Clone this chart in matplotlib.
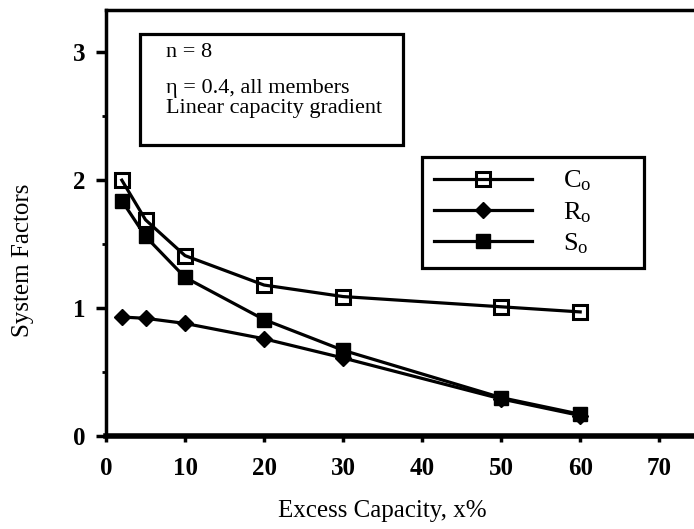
import matplotlib
matplotlib.use("Agg")
import matplotlib.pyplot as plt
from matplotlib.patches import Rectangle
from matplotlib.ticker import MultipleLocator

plt.rcParams["font.family"] = ["Liberation Serif", "DejaVu Serif"]
plt.rcParams["mathtext.fontset"] = "custom"
plt.rcParams["mathtext.rm"] = "Liberation Serif"
plt.rcParams["mathtext.it"] = "Liberation Serif:italic"

# Excess capacity (%) and system factors
excess = [2, 5, 10, 20, 30, 50, 60]
c_o = [2.00, 1.69, 1.41, 1.18, 1.09, 1.01, 0.97]
r_o = [0.93, 0.92, 0.88, 0.76, 0.61, 0.29, 0.16]
s_o = [1.84, 1.56, 1.24, 0.91, 0.67, 0.30, 0.17]

x_ticks = [0, 10, 20, 30, 40, 50, 60, 70]
y_ticks = [0, 1, 2, 3]

fig = plt.figure(figsize=(6.94, 5.29), dpi=100)
W, H = 694, 529
ax = fig.add_axes([106 / W, 1 - 436 / H, (W - 106) / W, (436 - 10) / H])
ax.set_xlim(0, 74.4)
ax.set_ylim(0, 3.33)

lw = 2.3
ax.plot(excess, c_o, color="black", lw=lw, marker="s", ms=9.5,
        mfc="none", mec="black", mew=2.2, label=r"C$_\mathrm{o}$", zorder=3)
ax.plot(excess, r_o, color="black", lw=lw, marker="D", ms=8,
        mfc="black", mec="black", label=r"R$_\mathrm{o}$", zorder=3)
ax.plot(excess, s_o, color="black", lw=lw, marker="s", ms=10.5,
        mfc="black", mec="black", label=r"S$_\mathrm{o}$", zorder=4)

for side in ("left", "bottom", "top"):
    ax.spines[side].set_linewidth(2.5)
ax.spines["right"].set_visible(False)
ax.spines["bottom"].set_linewidth(4)

ax.set_xticks(x_ticks)
ax.set_yticks(y_ticks)
ax.yaxis.set_minor_locator(MultipleLocator(0.5))
ax.tick_params(axis="x", direction="out", length=4, width=2.5, pad=11,
               labelsize=18)
ax.tick_params(axis="y", which="major", direction="out", length=7, width=2.5,
               pad=8, labelsize=18)
ax.tick_params(axis="y", which="minor", direction="out", length=3, width=2)
for lab in ax.get_xticklabels() + ax.get_yticklabels():
    lab.set_fontweight("bold")

ax.set_xlabel("Excess Capacity, x%", fontsize=18)
ax.xaxis.set_label_coords((382 - 106) / 588, -0.150)
ax.set_ylabel("System Factors", fontsize=18)
ax.yaxis.set_label_coords(-0.122, 0.413)

# Parameter note box
def px_to_data(px, py):
    return ax.transData.inverted().transform(
        fig.transFigure.transform((px / W, 1 - py / H)))

fig.canvas.draw()
x0, y0 = px_to_data(140, 145)
x1, y1 = px_to_data(403, 34)
ax.add_patch(Rectangle((x0, y0), x1 - x0, y1 - y0, fill=False,
                       ec="black", lw=2.3, zorder=5))
note_fs = 16
tx, ty = px_to_data(166, 53)
ax.text(tx, ty, "n = 8", fontsize=note_fs, va="center", ha="left")
tx, ty = px_to_data(166, 89)
ax.text(tx, ty, "η = 0.4, all members", fontsize=note_fs, va="center",
        ha="left")
tx, ty = px_to_data(166, 108)
ax.text(tx, ty, "Linear capacity gradient", fontsize=note_fs, va="center",
        ha="left")

# Legend box spanning a fixed width, entries left-aligned inside
leg_left = (422 - 106) / 588
leg_bottom = (436 - 270) / 426
leg_width = (644 - 422) / 588
leg_height = (270 - 157) / 426
leg = ax.legend(loc="upper left", mode="expand",
                bbox_to_anchor=(leg_left, leg_bottom, leg_width, leg_height),
                fontsize=19, frameon=True, fancybox=False, framealpha=1,
                handlelength=3.7, handletextpad=1.2, labelspacing=0.25,
                borderpad=0.45, borderaxespad=0, edgecolor="black")
leg.get_frame().set_linewidth(2.3)

fig.savefig("out.png", dpi=100)
